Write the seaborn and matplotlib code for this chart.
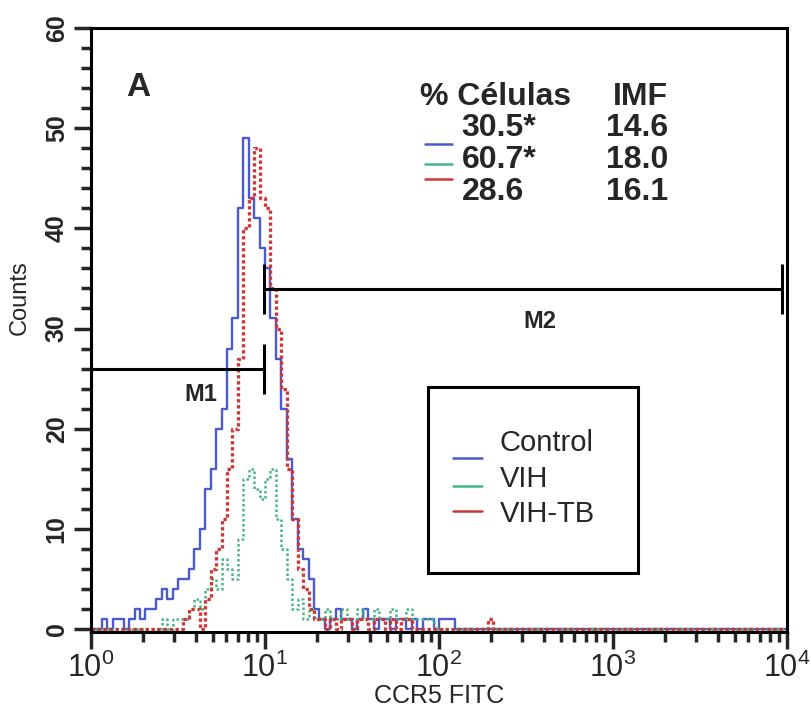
import numpy as np
import pandas as pd
import seaborn as sns
import matplotlib.pyplot as plt
from matplotlib.patches import Rectangle
from matplotlib.ticker import LogLocator, MultipleLocator, LogFormatterMathtext

# histogram channels: 32 per decade, from 10^0 up to 10^4
bins_per_decade = 32
n_bins = 4 * bins_per_decade

control = [0, 0, 1, 0, 1, 1, 0, 1, 2, 1, 2, 2, 3, 4, 3, 4, 5, 5, 6, 8,
           10, 14, 16, 20, 22, 28, 31, 42, 49, 43, 41, 38, 36, 31, 27, 22, 17, 11, 8, 7,
           5, 2, 1, 0, 1, 2, 1, 1, 0, 1, 2, 1, 0, 1, 1, 0, 1, 1, 0, 1,
           0, 1, 1, 0, 1, 1, 1]
vih = [0, 0, 0, 0, 0, 0, 0, 0, 0, 0, 0, 0, 0, 1, 0, 1, 1, 1, 2, 3,
       2, 4, 5, 4, 7, 6, 5, 9, 15, 16, 14, 13, 15, 16, 11, 8, 5, 2, 3, 1,
       2, 1, 1, 2, 1, 1, 2, 1, 1, 2, 1, 1, 2, 1, 1, 2, 1, 1, 2, 1,
       1, 1, 1]
vih_tb = [0, 0, 0, 0, 0, 0, 0, 0, 0, 0, 0, 0, 0, 0, 0, 0, 0, 1, 2, 2,
          0, 3, 6, 8, 11, 16, 20, 27, 40, 43, 48, 43, 42, 34, 30, 24, 16, 11, 6, 4,
          2, 1, 1, 0, 1, 0, 1, 1, 0, 1, 1, 0, 1, 1, 0, 1, 0, 1, 1, 0,
          0, 0, 0, 0, 0, 0, 0, 0, 0, 0, 0, 0, 0, 1]

groups = ['Control', 'VIH', 'VIH-TB']
colors = {'Control': '#4a5ad0', 'VIH': '#44b883', 'VIH-TB': '#cc3838'}
pct_cells = ['30.5*', '60.7*', '28.6']
imf = ['14.6', '18.0', '16.1']

edges = 10 ** (np.arange(n_bins + 1) / bins_per_decade)


def pad(counts):
    c = np.zeros(n_bins + 1)
    c[:len(counts)] = counts
    c[-1] = c[-2]
    return c


rows = []
for name, counts in zip(groups, [control, vih, vih_tb]):
    rows.append(pd.DataFrame({'fitc': edges, 'counts': pad(counts), 'group': name}))
df = pd.concat(rows, ignore_index=True)

sns.set_style('ticks')
plt.rcParams['font.family'] = ['Liberation Sans', 'DejaVu Sans']
plt.rcParams['mathtext.fontset'] = 'custom'
plt.rcParams['mathtext.rm'] = 'Liberation Sans'
plt.rcParams['mathtext.it'] = 'Liberation Sans'

fig = plt.figure(figsize=(8.12, 7.2), dpi=100)
ax = fig.add_axes([0.1121, 0.1222, 0.8571, 0.8389])
ax.set_xscale('log')

styles = {'Control': dict(lw=1.7, ls='-'),
          'VIH': dict(lw=1.8, ls=(0, (1, 1))),
          'VIH-TB': dict(lw=2.4, ls=(0, (1, 0.8)))}
for name in groups:
    sub = df[df['group'] == name]
    sns.lineplot(data=sub, x='fitc', y='counts', color=colors[name], ax=ax,
                 drawstyle='steps-post', estimator=None, sort=False, **styles[name])

ax.set_xlim(1, 1e4)
ax.set_ylim(-0.3, 60)

# markers M1 / M2
k = dict(color='black', lw=2.2, solid_capstyle='butt')
ax.plot([1, 10 ** 0.995], [26, 26], **k)
ax.plot([1.005, 1.005], [23.5, 28.5], **k)
ax.plot([10 ** 0.995] * 2, [23.5, 28.5], **k)
ax.plot([10 ** 0.995, 10 ** 3.97], [33.9, 33.9], **k)
ax.plot([10 ** 0.995] * 2, [31.4, 36.4], **k)
ax.plot([10 ** 3.97] * 2, [31.4, 36.4], **k)
ax.text(10 ** 0.63, 23.4, 'M1', fontsize=17, fontweight='bold', ha='center', va='center')
ax.text(10 ** 2.58, 30.7, 'M2', fontsize=17, fontweight='bold', ha='center', va='center')

ax.text(10 ** 0.27, 54.1, 'A', fontsize=24, fontweight='bold', ha='center', va='center')

# statistics table
ax.text(10 ** 1.89, 53.1, '% Células', fontsize=23, fontweight='bold', va='center')
ax.text(10 ** 3.316, 53.1, 'IMF', fontsize=23, fontweight='bold', va='center', ha='right')
row_y = [50.0, 46.8, 43.6]
dash_y = [48.4, 46.4, 44.9]
for i, name in enumerate(groups):
    ax.text(10 ** 2.13, row_y[i], pct_cells[i], fontsize=23, fontweight='bold', va='center')
    ax.text(10 ** 3.316, row_y[i], imf[i], fontsize=23, fontweight='bold', va='center', ha='right')
    ax.plot([10 ** 1.92, 10 ** 2.075], [dash_y[i]] * 2, color=colors[name], lw=1.8)

# group legend box
ax.add_patch(Rectangle((0.484, 0.0977), 0.302, 0.308, transform=ax.transAxes,
                       fill=False, edgecolor='black', lw=2.2))
leg_text_y = [0.3129, 0.2533, 0.1954]
leg_dash_y = [0.2881, 0.2417, 0.2003]
for i, name in enumerate(groups):
    ax.text(0.5876, leg_text_y[i], name, transform=ax.transAxes, fontsize=21, va='center')
    ax.plot([0.520, 0.5618], [leg_dash_y[i]] * 2, transform=ax.transAxes,
            color=colors[name], lw=1.8)

ax.set_xlabel('CCR5 FITC', fontsize=18, labelpad=0)
ax.set_ylabel('Counts', fontsize=17)
ax.yaxis.set_label_coords(-0.087, 0.553)

ax.xaxis.set_major_locator(LogLocator(base=10, numticks=10))
ax.xaxis.set_minor_locator(LogLocator(base=10, subs=np.arange(2, 10), numticks=20))
ax.xaxis.set_major_formatter(LogFormatterMathtext())
ax.yaxis.set_major_locator(MultipleLocator(10))
ax.yaxis.set_minor_locator(MultipleLocator(2))
ax.tick_params(axis='both', which='major', length=12, width=2.5, direction='out')
ax.tick_params(axis='both', which='minor', length=7, width=2.5, direction='out')
ax.tick_params(axis='x', labelsize=22, pad=3)
ax.tick_params(axis='y', labelsize=18, pad=4)
for lab in ax.get_yticklabels():
    lab.set_rotation(90)
    lab.set_va('center')
    lab.set_fontweight('bold')
for s in ax.spines.values():
    s.set_linewidth(2.2)
    s.set_color('black')

fig.savefig('out.png', dpi=100)
